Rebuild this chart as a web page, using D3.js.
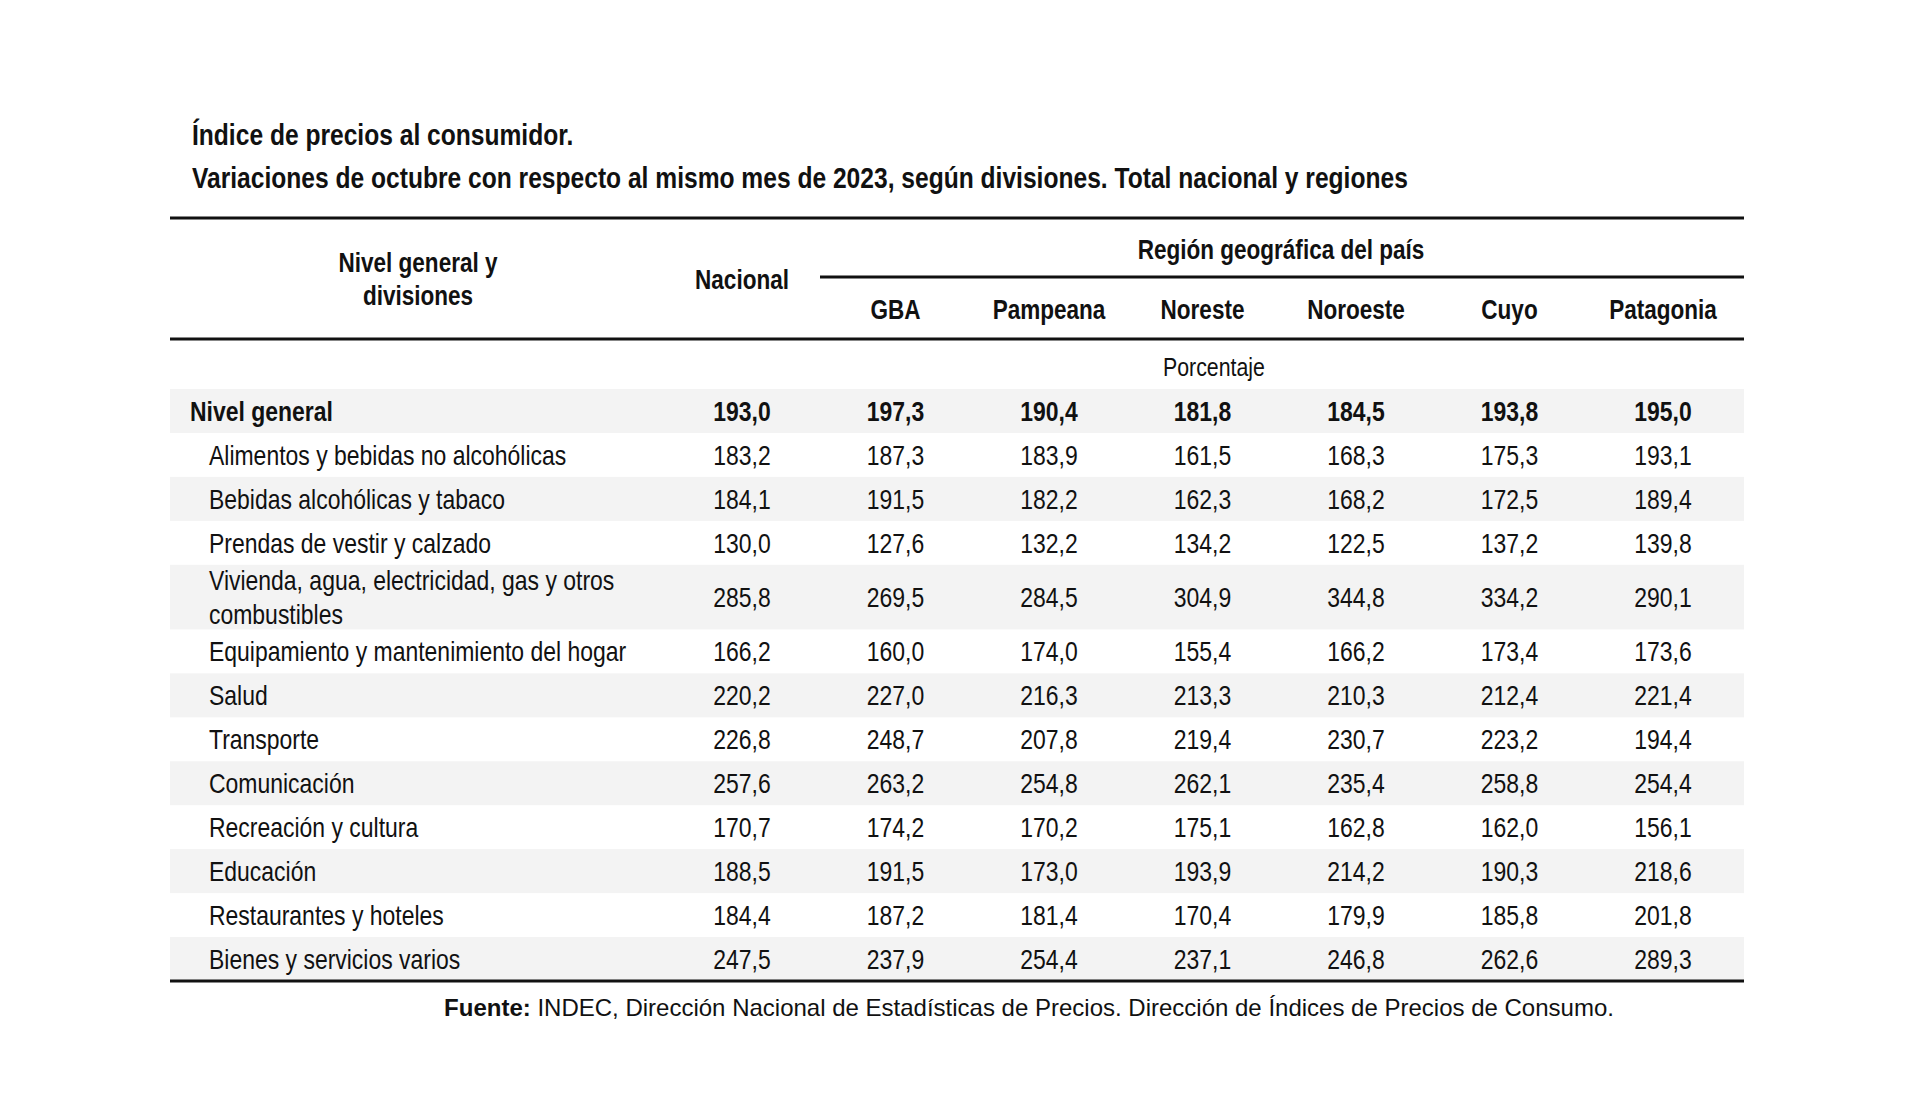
<!DOCTYPE html>
<html><head><meta charset="utf-8">
<script src="https://cdn.jsdelivr.net/npm/d3@7"></script>
<style>
html,body{margin:0;padding:0;background:#fff;}
svg{display:block;}
</style></head>
<body>
<svg id="chart" width="1920" height="1104"></svg>
<script>
const titleLines = ["Índice de precios al consumidor.",
  "Variaciones de octubre con respecto al mismo mes de 2023, según divisiones. Total nacional y regiones"];
const categories = ["Nivel general","Alimentos y bebidas no alcohólicas","Bebidas alcohólicas y tabaco",
  "Prendas de vestir y calzado","Vivienda, agua, electricidad, gas y otros combustibles",
  "Equipamiento y mantenimiento del hogar","Salud","Transporte","Comunicación",
  "Recreación y cultura","Educación","Restaurantes y hoteles","Bienes y servicios varios"];
const columns = ["Nacional","GBA","Pampeana","Noreste","Noroeste","Cuyo","Patagonia"];
const nacional  = [193.0,183.2,184.1,130.0,285.8,166.2,220.2,226.8,257.6,170.7,188.5,184.4,247.5];
const gba       = [197.3,187.3,191.5,127.6,269.5,160.0,227.0,248.7,263.2,174.2,191.5,187.2,237.9];
const pampeana  = [190.4,183.9,182.2,132.2,284.5,174.0,216.3,207.8,254.8,170.2,173.0,181.4,254.4];
const noreste   = [181.8,161.5,162.3,134.2,304.9,155.4,213.3,219.4,262.1,175.1,193.9,170.4,237.1];
const noroeste  = [184.5,168.3,168.2,122.5,344.8,166.2,210.3,230.7,235.4,162.8,214.2,179.9,246.8];
const cuyo      = [193.8,175.3,172.5,137.2,334.2,173.4,212.4,223.2,258.8,162.0,190.3,185.8,262.6];
const patagonia = [195.0,193.1,189.4,139.8,290.1,173.6,221.4,194.4,254.4,156.1,218.6,201.8,289.3];
const series = [nacional,gba,pampeana,noreste,noroeste,cuyo,patagonia];
const headerLeft = ["Nivel general y","divisiones"];
const regionHeader = "Región geográfica del país";
const unitLabel = "Porcentaje";
const sourceBold = "Fuente:";
const sourceText = " INDEC, Dirección Nacional de Estadísticas de Precios. Dirección de Índices de Precios de Consumo.";

function hasFont(name){
  const c=document.createElement("canvas").getContext("2d");
  const s="abcdefghijklmnopqrstuvwxyz0123456789";
  c.font="40px monospace"; const w0=c.measureText(s).width;
  c.font="40px '"+name+"', monospace"; const w1=c.measureText(s).width;
  return w0!==w1;
}
const narrow = hasFont("Liberation Sans Narrow");
const NF = narrow ? "'Liberation Sans Narrow', 'Liberation Sans', Arial, sans-serif" : "'Liberation Sans', Arial, sans-serif";
const SX = narrow ? 1 : 0.82;

const svg = d3.select("#chart");
svg.append("rect").attr("width",1920).attr("height",1104).attr("fill","#fff");
const ink = "#111";
const fmt = v => d3.format(".1f")(v).replace(".", ",");

function ntext(g, x, y, str, opts={}){
  return g.append("text")
    .attr("transform", `translate(${x},${y}) scale(${SX},1)`)
    .attr("font-family", NF)
    .attr("font-size", opts.size||28)
    .attr("font-weight", opts.bold? "bold":"normal")
    .attr("fill", ink)
    .attr("text-anchor", opts.anchor||"start")
    .attr("dominant-baseline","central")
    .text(str);
}

const left = 170, right = 1744;
ntext(svg, 192, 135, titleLines[0], {bold:true, size:30});
ntext(svg, 192, 178, titleLines[1], {bold:true, size:30});

const colX = d3.scalePoint().domain(columns).range([742, 1663]);

svg.append("line").attr("x1",left).attr("x2",right).attr("y1",218).attr("y2",218).attr("stroke",ink).attr("stroke-width",3);
svg.append("line").attr("x1",820).attr("x2",right).attr("y1",277).attr("y2",277).attr("stroke",ink).attr("stroke-width",3);
svg.append("line").attr("x1",left).attr("x2",right).attr("y1",339).attr("y2",339).attr("stroke",ink).attr("stroke-width",3);

const HS = 27.5;
ntext(svg, 418, 262, headerLeft[0], {bold:true, size:HS, anchor:"middle"});
ntext(svg, 418, 295, headerLeft[1], {bold:true, size:HS, anchor:"middle"});
ntext(svg, colX("Nacional"), 279, "Nacional", {bold:true, size:HS, anchor:"middle"});
ntext(svg, 1281, 249, regionHeader, {bold:true, size:HS, anchor:"middle"});
columns.slice(1).forEach(c => ntext(svg, colX(c), 309, c, {bold:true, size:HS, anchor:"middle"}));
ntext(svg, 1214, 367, unitLabel, {size:26, anchor:"middle"});

const weights = categories.map(c => c.length > 45 ? 1.47 : 1);
const top0 = 389, bottom0 = 981;
const unit = (bottom0 - top0) / d3.sum(weights);
const rowTop = []; let acc = top0;
weights.forEach(w => { rowTop.push(acc); acc += w*unit; });

const rows = svg.append("g");
categories.forEach((cat, i) => {
  const y0 = rowTop[i], h = weights[i]*unit, yc = y0 + h/2;
  if (i % 2 === 0) rows.append("rect").attr("x",left).attr("y",y0).attr("width",right-left).attr("height",h).attr("fill","#f3f3f3");
  const bold = i === 0;
  const lx = bold ? 190 : 209;
  if (weights[i] > 1) {
    const words = cat.split(" ");
    const l1 = words.slice(0, words.length-1).join(" "), l2 = words[words.length-1];
    ntext(rows, lx, yc-16.5, l1);
    ntext(rows, lx, yc+17, l2);
  } else {
    ntext(rows, lx, yc, cat, {bold});
  }
  columns.forEach((c, j) => ntext(rows, colX(c), yc, fmt(series[j][i]), {bold, anchor:"middle"}));
});

svg.append("line").attr("x1",left).attr("x2",right).attr("y1",981).attr("y2",981).attr("stroke",ink).attr("stroke-width",3);

const src = svg.append("text").attr("x",1029).attr("y",1007).attr("text-anchor","middle")
  .attr("dominant-baseline","central").attr("font-family","'Liberation Sans', Arial, sans-serif")
  .attr("font-size",24).attr("fill",ink);
src.append("tspan").attr("font-weight","bold").text(sourceBold);
src.append("tspan").text(sourceText);
</script>
</body></html>
